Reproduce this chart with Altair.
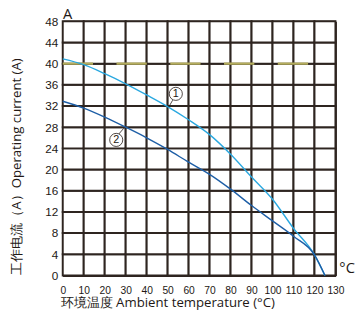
import altair as alt
import pandas as pd

# Curve 1 (light blue)
t1 = [0, 10, 20, 30, 40, 50, 60, 70, 80, 90, 100, 110, 120, 125]
i1 = [40.9, 39.8, 38.1, 36.2, 34.1, 31.9, 29.4, 26.6, 22.9, 18.6, 14.4, 8.9, 3.9, 0]
# Curve 2 (dark blue)
t2 = [0, 10, 20, 30, 40, 50, 60, 70, 80, 90, 100, 110, 120, 125]
i2 = [32.9, 31.6, 29.9, 28.0, 26.0, 23.8, 21.4, 19.1, 16.3, 13.2, 10.3, 7.4, 3.9, 0]

x_ticks = list(range(0, 131, 10))
y_ticks = list(range(0, 49, 4))

limit_value = 40
limit_end = 119

labels = ["1", "2"]
label_t = [53.9, 25.5]
label_i = [34.3, 25.6]
leader_t1 = [52.4, 26.7]
leader_i1 = [33.1, 26.7]
leader_t2 = [50.5, 29.1]
leader_i2 = [31.8, 27.8]

df = pd.concat([
    pd.DataFrame({"T": t1, "I": i1, "curve": "1"}),
    pd.DataFrame({"T": t2, "I": i2, "curve": "2"}),
])
lab = pd.DataFrame({"label": labels, "T": label_t, "I": label_i,
                    "T1": leader_t1, "I1": leader_i1, "T2": leader_t2, "I2": leader_i2})
lim = pd.DataFrame({"T": [0], "T2": [limit_end], "I": [limit_value]})

# grid cells built from consecutive tick values
cells = pd.DataFrame([
    {"x0": a, "x1": b, "y0": c, "y1": d}
    for a, b in zip(x_ticks[:-1], x_ticks[1:])
    for c, d in zip(y_ticks[:-1], y_ticks[1:])
])
one = pd.DataFrame({"k": [0]})

W, H = 279, 260
grid_color = "#2e2520"

xs = alt.Scale(domain=[0, 130], nice=False)
ys = alt.Scale(domain=[0, 48], nice=False)

xax = alt.Axis(values=x_ticks, grid=True, gridColor=grid_color, gridWidth=2, gridOpacity=1,
               ticks=False, domain=True, domainColor=grid_color, domainWidth=2, labelPadding=10,
               title="环境温度 Ambient temperature (°C)",
               titleAnchor="start", titleAlign="center", titleX=107, titleY=21,
               titleBaseline="top")
yax = alt.Axis(values=y_ticks, grid=True, gridColor=grid_color, gridWidth=2, gridOpacity=1,
               ticks=False, domain=True, domainColor=grid_color, domainWidth=2, labelPadding=5,
               title="工作电流（A）Operating current (A)",
               titleAnchor="start", titleAlign="center", titleX=-47, titleY=148,
               titleBaseline="middle")

X = lambda f: alt.X(f, scale=xs, axis=xax)
Y = lambda f: alt.Y(f, scale=ys, axis=yax)

grid = alt.Chart(cells).mark_rect(fill="white", stroke=grid_color, strokeWidth=2, opacity=1).encode(
    x=X("x0:Q"), x2="x1:Q", y=Y("y0:Q"), y2="y1:Q"
)

lines = alt.Chart(df).mark_line(strokeWidth=1.4, interpolate="monotone").encode(
    x=X("T:Q"), y=Y("I:Q"),
    color=alt.Color("curve:N", scale=alt.Scale(domain=["1", "2"], range=["#2aa8e0", "#1d5ea6"]), legend=None),
)

limit = alt.Chart(lim).mark_rule(color="#b5ae5e", strokeWidth=2.2, strokeDash=[31, 24]).encode(
    x=X("T:Q"), x2="T2:Q", y=Y("I:Q")
)

leaders = alt.Chart(lab).mark_rule(color="#231815", strokeWidth=0.8).encode(
    x=X("T1:Q"), x2="T2:Q", y=Y("I1:Q"), y2="I2:Q"
)
circles = alt.Chart(lab).mark_point(shape="circle", size=180, filled=True, fill="white",
                                     stroke="#231815", strokeWidth=0.8, opacity=1).encode(
    x=X("T:Q"), y=Y("I:Q")
)
texts = alt.Chart(lab).mark_text(font="Liberation Sans", fontSize=11, color="#231815",
                                 baseline="middle", dy=0.5).encode(
    x=X("T:Q"), y=Y("I:Q"), text="label:N"
)

unit_a = alt.Chart(one).mark_text(text="A", font="Open Sans", fontSize=15, color="#231815",
                                  align="center", baseline="alphabetic").encode(
    x=alt.value(5), y=alt.value(-2)
)
unit_c = alt.Chart(one).mark_text(text="°C", font="Open Sans", fontSize=15, color="#231815",
                                  align="left", baseline="middle").encode(
    x=alt.value(283), y=alt.value(253)
)

chart = alt.layer(grid, limit, lines, leaders, circles, texts, unit_a, unit_c).properties(
    width=W, height=H,
    autosize=alt.AutoSizeParams(type="none"),
    padding={"left": 56, "top": 10, "right": 20, "bottom": 44},
).configure_view(strokeWidth=0).configure_axis(
    labelFont="Liberation Sans", labelColor="#231815",
    titleFont="Open Sans", titleFontSize=13.5, titleFontWeight="normal", titleColor="#231815",
    labelFlush=False, labelOverlap=False,
).configure_axisX(labelFontSize=10.5).configure_axisY(labelFontSize=12)

chart.save("out.html", embed_options={"renderer": "svg", "actions": False})
